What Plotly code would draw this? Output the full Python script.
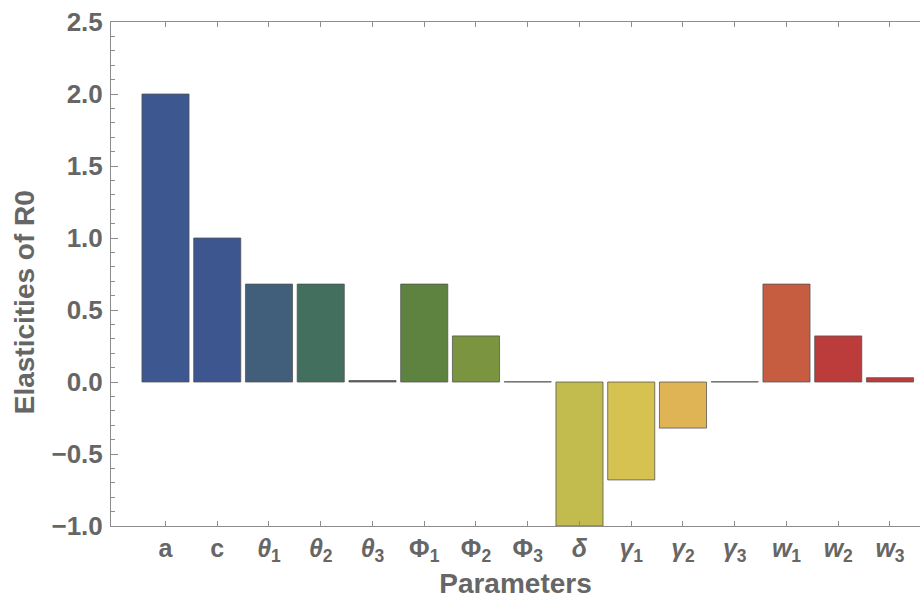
import plotly.graph_objects as go

# Parameters and their elasticities of R0
params = ["a", "c",
          "<i>θ</i><sub>1</sub>", "<i>θ</i><sub>2</sub>", "<i>θ</i><sub>3</sub>",
          "Φ<sub>1</sub>", "Φ<sub>2</sub>", "Φ<sub>3</sub>",
          "<i>δ</i>",
          "<i>γ</i><sub>1</sub>", "<i>γ</i><sub>2</sub>", "<i>γ</i><sub>3</sub>",
          "<i>w</i><sub>1</sub>", "<i>w</i><sub>2</sub>", "<i>w</i><sub>3</sub>"]
elasticities = [2.0, 1.0, 0.68, 0.68, 0.01, 0.68, 0.32, 0.002,
                -1.0, -0.68, -0.32, 0.002, 0.68, 0.32, 0.03]
bar_colors = ["#3D5891", "#3D5690", "#415F7A", "#436F5E", "#4A7550",
              "#5E823F", "#7A9440", "#A0A845", "#C2BC4E", "#D6C251",
              "#DFB455", "#D89048", "#C65D41", "#BC3B3B", "#BD3B3B"]
y_ticks = [-1.0, -0.5, 0.0, 0.5, 1.0, 1.5, 2.0, 2.5]

xpos = list(range(len(params)))
grey = "#666666"
axis_grey = "#8c8c8c"
family = "Liberation Sans, Arial, sans-serif"

fig = go.Figure(go.Bar(
    x=xpos, y=elasticities, width=0.91,
    marker=dict(color=bar_colors, line=dict(color="rgba(80,80,80,0.75)", width=1)),
))

fig.update_layout(
    width=920, height=601,
    margin=dict(l=111, r=0, t=22, b=75),
    paper_bgcolor="white", plot_bgcolor="white",
    showlegend=False,
    font=dict(family=family, size=26, color=grey),
)

fig.update_xaxes(
    range=[-1.053, 14.58],
    tickmode="array", tickvals=xpos,
    ticktext=[f"<b>{t}</b>" for t in params],
    showline=True, linecolor=axis_grey, linewidth=1,
    mirror="allticks", ticks="inside", ticklen=5, tickcolor=axis_grey,
    showgrid=False, zeroline=False,
    tickfont=dict(family=family, size=25, color=grey),
    title=dict(text="<b>Parameters</b>", standoff=8,
               font=dict(family=family, size=28, color=grey)),
)

fig.update_yaxes(
    range=[-1.0, 2.5],
    tickmode="array", tickvals=y_ticks,
    ticktext=[f"<b>{v:.1f}</b>".replace("-", "−") for v in y_ticks],
    showline=True, linecolor=axis_grey, linewidth=1,
    ticks="inside", ticklen=7, tickcolor=axis_grey,
    minor=dict(tickvals=[round(-1.0 + 0.1 * i, 1) for i in range(36)],
               ticks="inside", ticklen=4, tickcolor=axis_grey),
    showgrid=False, zeroline=False,
    ticklabelstandoff=2,
    tickfont=dict(family=family, size=26, color=grey),
)

# Vertical axis title
fig.add_annotation(
    text="<b>Elasticities of R0</b>", textangle=-90,
    xref="paper", yref="paper", x=-0.1075, y=0.444,
    xanchor="center", yanchor="middle", showarrow=False,
    font=dict(family=family, size=28, color=grey),
)

fig.write_html("out.html")
